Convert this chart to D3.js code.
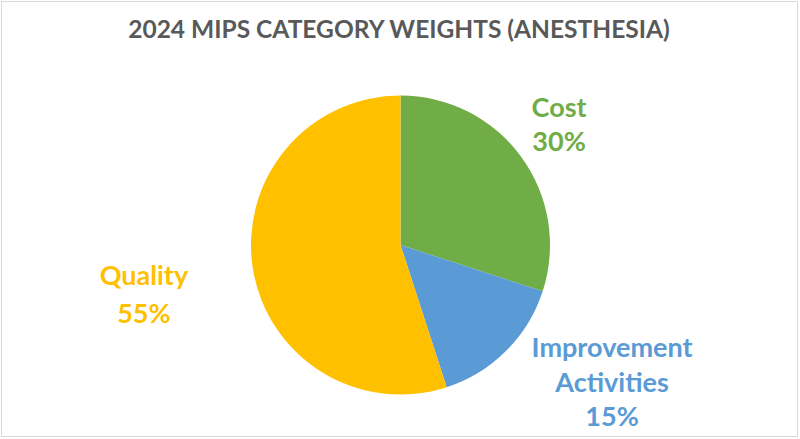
<!DOCTYPE html>
<html>
<head>
<meta charset="utf-8">
<script src="https://cdn.jsdelivr.net/npm/d3@7/dist/d3.min.js"></script>
<style>
  html, body { margin: 0; padding: 0; background: #ffffff; }
  svg { display: block; }
</style>
</head>
<body>
<svg id="chart" width="800" height="439"></svg>
<script>
// ---- data ----
const titleText = "2024 MIPS CATEGORY WEIGHTS (ANESTHESIA)";
const categories = ["Cost", "Improvement Activities", "Quality"];
const values = [30, 15, 55];
const labelLines = [["Cost"], ["Improvement", "Activities"], ["Quality"]];
const colors = ["#70AD47", "#5B9BD5", "#FFC000"];

// ---- layout ----
const W = 800, H = 439;
const cx = 400.5, cy = 245, r = 149.5;
const fontFamily = "Lato, 'Open Sans', 'Liberation Sans', sans-serif";
// label nudges (relative to label-arc centroid), and line spacing
const labelRadius = 196;
const labelNudge = [[0, -4], [73, 0], [-63, 20]];
const lineGap = [34, 34.5, 38];

const svg = d3.select("#chart");

// outer border
svg.append("rect")
  .attr("x", 1.5).attr("y", 1.5)
  .attr("width", W - 4).attr("height", H - 4)
  .attr("fill", "#ffffff")
  .attr("stroke", "#d9d9d9").attr("stroke-width", 1);

// title
const title = svg.append("text")
  .attr("x", 399).attr("y", 38)
  .attr("text-anchor", "middle")
  .attr("font-family", fontFamily)
  .attr("font-weight", "bold")
  .attr("font-size", 20)
  .attr("fill", "#595959")
  .text(titleText);
// fit title to reference width
const tw = title.node().getComputedTextLength();
title.attr("font-size", 20 * 542 / tw);

// pie
const pie = d3.pie().sort(null).value(d => d.value);
const data = categories.map((c, i) => ({ name: c, value: values[i], color: colors[i], lines: labelLines[i] }));
const arcs = pie(data);
const arc = d3.arc().innerRadius(0).outerRadius(r);
const labelArc = d3.arc().innerRadius(labelRadius).outerRadius(labelRadius);

const g = svg.append("g").attr("transform", `translate(${cx},${cy})`);
g.selectAll("path.slice")
  .data(arcs)
  .enter().append("path")
  .attr("class", "slice")
  .attr("d", arc)
  .attr("fill", d => d.data.color);

// labels
const labelSize = 24;
const lg = g.selectAll("text.lbl")
  .data(arcs)
  .enter().append("text")
  .attr("class", "lbl")
  .attr("text-anchor", "middle")
  .attr("font-family", fontFamily)
  .attr("font-weight", "bold")
  .attr("font-size", labelSize)
  .attr("fill", d => d.data.color);

lg.each(function(d, i) {
  const c = labelArc.centroid(d);
  const x = c[0] + labelNudge[i][0];
  const y = c[1] + labelNudge[i][1];
  const lines = d.data.lines.concat([d.data.value + "%"]);
  const n = lines.length;
  const t = d3.select(this);
  lines.forEach((ln, k) => {
    t.append("tspan")
      .attr("x", x)
      .attr("y", y + (k - (n - 1) / 2) * lineGap[i] + 8)
      .text(ln);
  });
});

// fit label font size to reference width of "Improvement" (~161px)
const impSpan = g.selectAll("text.lbl").filter((d, i) => i === 1).select("tspan").node();
const iw = impSpan.getComputedTextLength();
g.selectAll("text.lbl").attr("font-size", labelSize * 161 / iw);
</script>
</body>
</html>
